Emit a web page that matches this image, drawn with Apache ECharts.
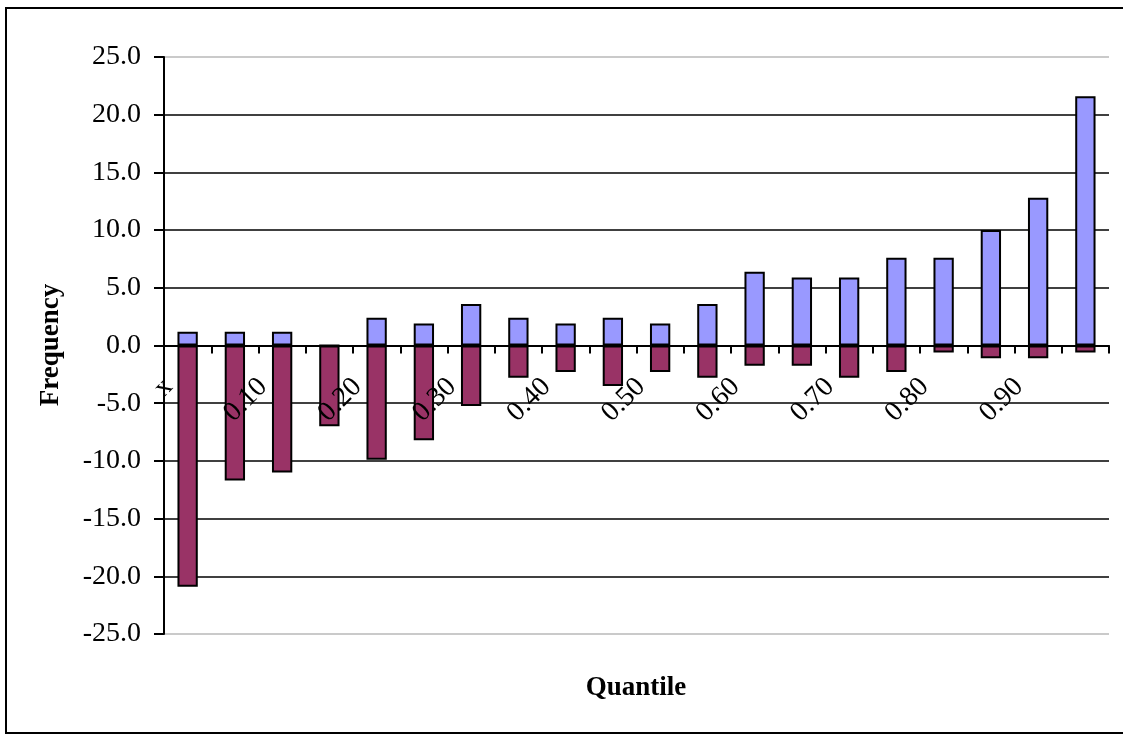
<!DOCTYPE html>
<html>
<head>
<meta charset="utf-8">
<title>Frequency by Quantile</title>
<script src="https://cdn.jsdelivr.net/npm/echarts@6/dist/echarts.min.js"></script>
<style>
  html, body { margin: 0; padding: 0; background: #fff; }
  #chart { width: 1123px; height: 734px; }
</style>
</head>
<body>
<div id="chart"></div>
<script>
// Quantile categories along the x axis (every other one is labelled)
const quantiles = ['x', '0.05', '0.10', '0.15', '0.20', '0.25', '0.30', '0.35', '0.40', '0.45',
                   '0.50', '0.55', '0.60', '0.65', '0.70', '0.75', '0.80', '0.85', '0.90', '0.95'];

// Frequencies above zero
const upper = [1.2, 1.2, 1.2, 0, 2.4, 1.9, 3.6, 2.4, 1.9, 2.4,
               1.9, 3.6, 6.4, 5.9, 5.9, 7.6, 7.6, 10.0, 12.8, 21.6];

// Frequencies below zero
const lower = [-20.9, -11.7, -11.0, -7.0, -9.9, -8.2, -5.25, -2.8, -2.3, -3.5,
               -2.3, -2.8, -1.75, -1.75, -2.8, -2.3, -0.6, -1.1, -1.1, -0.6];

const yTicks = { min: -25, max: 25, step: 5 };

const serif = '"Liberation Serif", "Times New Roman", "DejaVu Serif", serif';

const gridBox = { left: 164, right: 14, top: 57, bottom: 100 };
const plotHeight = 734 - gridBox.top - gridBox.bottom;
// shift the category axis (line, ticks and labels) up to the zero line
const zeroOffset = -plotHeight * (0 - yTicks.min) / (yTicks.max - yTicks.min);

const chart = echarts.init(document.getElementById('chart'), null, { renderer: 'canvas' });

// gridline colours: plot-area border (top/bottom) is light grey, inner lines black
const nLines = (yTicks.max - yTicks.min) / yTicks.step + 1;
const gridColors = [];
for (let i = 0; i < nLines; i++) {
  gridColors.push(i === 0 || i === nLines - 1 ? '#b8b8b8' : '#000000');
}

chart.setOption({
  animation: false,
  backgroundColor: '#ffffff',
  grid: Object.assign({ containLabel: false }, gridBox),
  xAxis: {
    type: 'category',
    data: quantiles,
    boundaryGap: true,
    offset: zeroOffset,
    z: 10,
    axisLine: { onZero: false, lineStyle: { color: '#000', width: 2 } },
    axisTick: { show: true, interval: 0, length: 8, inside: false, lineStyle: { color: '#000', width: 2 } },
    axisLabel: {
      interval: 1,
      rotate: 45,
      margin: 18,
      padding: [0, 27, 0, 0],
      color: '#000',
      fontFamily: serif,
      fontSize: 28
    },
    splitLine: { show: false }
  },
  yAxis: {
    type: 'value',
    min: yTicks.min,
    max: yTicks.max,
    interval: yTicks.step,
    axisLine: { show: true, lineStyle: { color: '#000', width: 2 } },
    axisTick: { show: true, length: 10, inside: false, lineStyle: { color: '#000', width: 2 } },
    axisLabel: {
      margin: 23,
      color: '#000',
      fontFamily: serif,
      fontSize: 28,
      formatter: v => v.toFixed(1)
    },
    splitLine: { show: true, lineStyle: { color: gridColors, width: 1.5 } }
  },
  series: [
    {
      name: 'Above',
      type: 'bar',
      data: upper,
      barWidth: '43%',
      barGap: '-100%',
      itemStyle: { color: '#9999FF', borderColor: '#000', borderWidth: 2 }
    },
    {
      name: 'Below',
      type: 'bar',
      data: lower,
      barWidth: '43%',
      barGap: '-100%',
      itemStyle: { color: '#993366', borderColor: '#000', borderWidth: 2 }
    }
  ],
  graphic: [
    {
      type: 'rect',
      shape: { x: 6, y: 8, width: 1130, height: 725 },
      style: { fill: 'none', stroke: '#000', lineWidth: 2 },
      silent: true
    },
    {
      type: 'text',
      x: 51,
      y: 345,
      rotation: Math.PI / 2,
      style: {
        text: 'Frequency',
        fontFamily: serif,
        fontSize: 27,
        fontWeight: 'bold',
        fill: '#000',
        align: 'center',
        verticalAlign: 'middle'
      }
    },
    {
      type: 'text',
      x: 636,
      y: 688,
      style: {
        text: 'Quantile',
        fontFamily: serif,
        fontSize: 27,
        fontWeight: 'bold',
        fill: '#000',
        align: 'center',
        verticalAlign: 'middle'
      }
    }
  ]
});
</script>
</body>
</html>
